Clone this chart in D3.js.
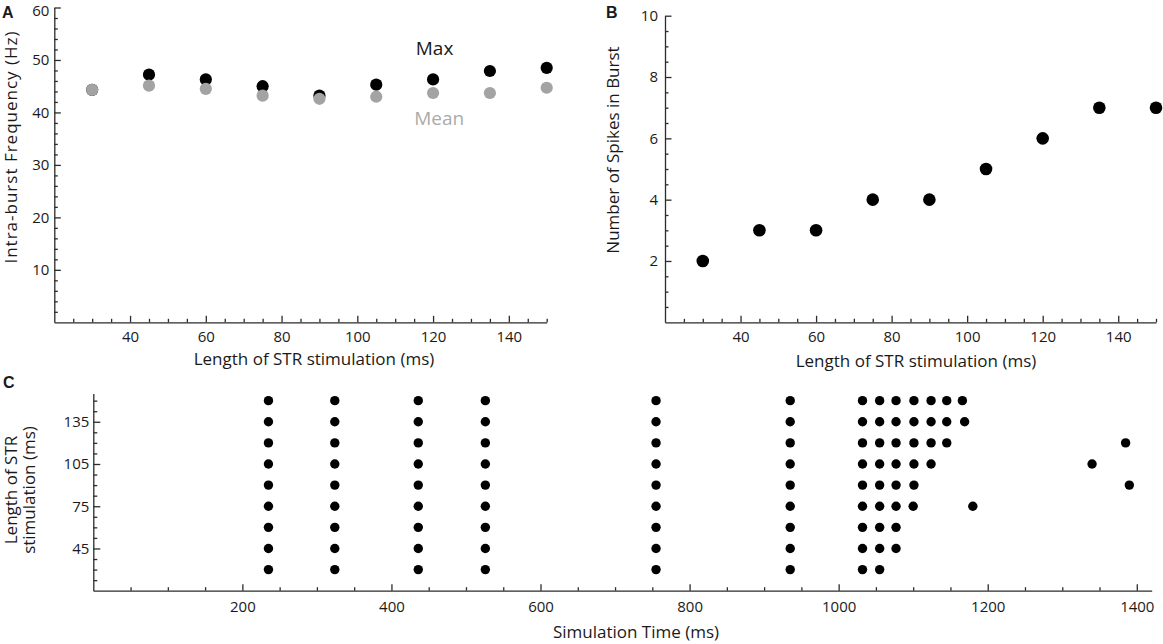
<!DOCTYPE html>
<html>
<head>
<meta charset="utf-8">
<script src="https://cdn.jsdelivr.net/npm/d3@7"></script>
<style>
  body { margin: 0; background: #fff; }
  text { font-family: "Open Sans", sans-serif; fill: #1a1a1a; }
</style>
</head>
<body>
<div id="fig"></div>
<script>
// A: intra-burst frequency against stimulation length
var stimLengths = [30, 45, 60, 75, 90, 105, 120, 135, 150];
var maxFreq  = [44.3, 47.2, 46.3, 45.0, 43.2, 45.3, 46.3, 47.9, 48.5];
var meanFreq = [44.3, 45.1, 44.5, 43.2, 42.6, 43.0, 43.7, 43.7, 44.7];

// B: spikes per burst
var spikesInBurst = [2, 3, 3, 4, 4, 5, 6, 7, 7];

// C: spike times (ms) for each stimulation length, same order as stimLengths
var spikeTimes = [
  [235, 324, 436, 526, 755, 935, 1032, 1055],
  [235, 324, 436, 526, 755, 935, 1032, 1055, 1077],
  [235, 324, 436, 526, 755, 935, 1032, 1055, 1077],
  [235, 324, 436, 526, 755, 935, 1032, 1055, 1077, 1100, 1180],
  [235, 324, 436, 526, 755, 935, 1032, 1055, 1077, 1101, 1390],
  [235, 324, 436, 526, 755, 935, 1032, 1055, 1077, 1101, 1124, 1340],
  [235, 324, 436, 526, 755, 935, 1032, 1055, 1077, 1101, 1124, 1145, 1385],
  [235, 324, 436, 526, 755, 935, 1032, 1055, 1077, 1101, 1124, 1145, 1169],
  [235, 324, 436, 526, 755, 935, 1032, 1055, 1077, 1101, 1124, 1145, 1166]
];

// tick labels
var freqTicks = [10, 20, 30, 40, 50, 60];
var lengthTicks = [40, 60, 80, 100, 120, 140];
var countTicks = [2, 4, 6, 8, 10];
var rasterTicks = [45, 75, 105, 135];
var timeTicks = [200, 400, 600, 800, 1000, 1200, 1400];

var W = 1163, H = 644;
var svg = d3.select("#fig").append("svg")
  .attr("width", W).attr("height", H);

// inward ticks: long ones at the labels, short ones between
function drawAxis(g, axisFn, scale, major, minor, majorLen, minorLen, pad) {
  g.append("g")
    .call(axisFn(scale).tickValues(minor).tickSize(-minorLen).tickSizeOuter(0).tickFormat(""))
    .call(s => s.select(".domain").remove());
  var a = g.append("g")
    .call(axisFn(scale).tickValues(major).tickSize(-majorLen).tickSizeOuter(0)
      .tickPadding(pad).tickFormat(d3.format("d")));
  a.attr("font-family", null).attr("font-size", null);
  a.selectAll("text").style("font-size", "15px");
  a.selectAll("line, path").attr("stroke", "#2b2b2b").attr("stroke-width", 1.3);
  g.selectAll("line").attr("stroke", "#2b2b2b").attr("stroke-width", 1.3);
  return a;
}

function minorTicks(lo, hi, step, major) {
  return d3.range(lo, hi + step / 2, step).filter(v => major.indexOf(v) < 0);
}

function panelLetter(x, y, t) {
  svg.append("text").attr("x", x).attr("y", y)
    .style("font-family", "'Liberation Sans', Arial, sans-serif")
    .style("font-weight", "bold").style("font-size", "16px")
    .text(t);
}

// ---------- Panel A ----------
var xA = d3.scaleLinear().domain([20, 150]).range([54.3, 546.7]);
var yA = d3.scaleLinear().domain([0, 60]).range([322.3, 7.5]);
var gA = svg.append("g");

var gAx = gA.append("g").attr("transform", "translate(0," + yA(0) + ")");
drawAxis(gAx, d3.axisBottom, xA, lengthTicks, minorTicks(25, 150, 5, lengthTicks), 6.5, 3.5, 8.8);
var gAy = gA.append("g").attr("transform", "translate(" + xA(20) + ",0)");
var aYA = drawAxis(gAy, d3.axisLeft, yA, freqTicks, minorTicks(2, 58, 2, freqTicks), 6.5, 3.5, 5);
// keep the top label inside the picture
aYA.selectAll("text").filter(d => d === 60).attr("dy", "0.5em");

gA.append("g").selectAll("circle").data(stimLengths).join("circle")
  .attr("cx", (d, i) => xA(d)).attr("cy", (d, i) => yA(maxFreq[i]))
  .attr("r", 6.1).attr("fill", "#000");
gA.append("g").selectAll("circle").data(stimLengths).join("circle")
  .attr("cx", (d, i) => xA(d)).attr("cy", (d, i) => yA(meanFreq[i]))
  .attr("r", 6.1).attr("fill", "#a3a3a3");

gA.append("text").attr("x", xA(120.4)).attr("y", yA(51))
  .attr("text-anchor", "middle").style("font-size", "19px").text("Max");
gA.append("text").attr("x", xA(121.6)).attr("y", yA(37.7))
  .attr("text-anchor", "middle").style("font-size", "19px").style("fill", "#ababab").text("Mean");

gA.append("text").attr("x", 314).attr("y", 365)
  .attr("text-anchor", "middle").style("font-size", "17px")
  .text("Length of STR stimulation (ms)");
gA.append("text").attr("transform", "translate(17,147) rotate(-90)")
  .attr("text-anchor", "middle").style("font-size", "17px").style("letter-spacing", "1px")
  .text("Intra-burst Frequency (Hz)");
panelLetter(2, 18, "A");

// ---------- Panel B ----------
var xB = d3.scaleLinear().domain([20, 150]).range([665, 1156]);
var yB = d3.scaleLinear().domain([0, 10]).range([322.3, 15.7]);
var gB = svg.append("g");

var gBx = gB.append("g").attr("transform", "translate(0," + yB(0) + ")");
drawAxis(gBx, d3.axisBottom, xB, lengthTicks, minorTicks(25, 150, 5, lengthTicks), 6.5, 3.5, 8.8);
var gBy = gB.append("g").attr("transform", "translate(" + xB(20) + ",0)");
drawAxis(gBy, d3.axisLeft, yB, countTicks, minorTicks(0.5, 9.5, 0.5, countTicks), 6.5, 3.5, 7);

gB.append("g").selectAll("circle").data(stimLengths).join("circle")
  .attr("cx", d => xB(d)).attr("cy", (d, i) => yB(spikesInBurst[i]))
  .attr("r", 6.3).attr("fill", "#000");

gB.append("text").attr("x", 916).attr("y", 367)
  .attr("text-anchor", "middle").style("font-size", "17px")
  .text("Length of STR stimulation (ms)");
gB.append("text").attr("transform", "translate(619,150) rotate(-90)")
  .attr("text-anchor", "middle").style("font-size", "17px")
  .text("Number of Spikes in Burst");
panelLetter(606, 18, "B");

// ---------- Panel C ----------
var xC = d3.scaleLinear().domain([0, 1420]).range([93.3, 1151.7]);
var yC = d3.scaleLinear().domain([15, 155]).range([590.7, 393.6]);
var gC = svg.append("g");

var gCx = gC.append("g").attr("transform", "translate(0," + yC(15) + ")");
drawAxis(gCx, d3.axisBottom, xC, timeTicks, minorTicks(50, 1400, 50, timeTicks), 6.5, 3.5, 10.3);
var gCy = gC.append("g").attr("transform", "translate(" + xC(0) + ",0)");
drawAxis(gCy, d3.axisLeft, yC, rasterTicks, minorTicks(22.5, 150, 7.5, rasterTicks), 7, 4, 4);

var rows = stimLengths.map((len, i) => spikeTimes[i].map(t => ({len: len, t: t})));
gC.append("g").selectAll("circle").data(rows.flat()).join("circle")
  .attr("cx", d => xC(d.t)).attr("cy", d => yC(d.len))
  .attr("r", 4.7).attr("fill", "#000");

gC.append("text").attr("x", 636).attr("y", 638)
  .attr("text-anchor", "middle").style("font-size", "17px")
  .text("Simulation Time (ms)");
var cy = gC.append("text").attr("transform", "translate(0,490) rotate(-90)")
  .attr("text-anchor", "middle").style("font-size", "17px");
cy.append("tspan").attr("x", 0).attr("y", 17).text("Length of STR");
cy.append("tspan").attr("x", 0).attr("y", 35).text("stimulation (ms)");
panelLetter(3, 388, "C");
</script>
</body>
</html>
